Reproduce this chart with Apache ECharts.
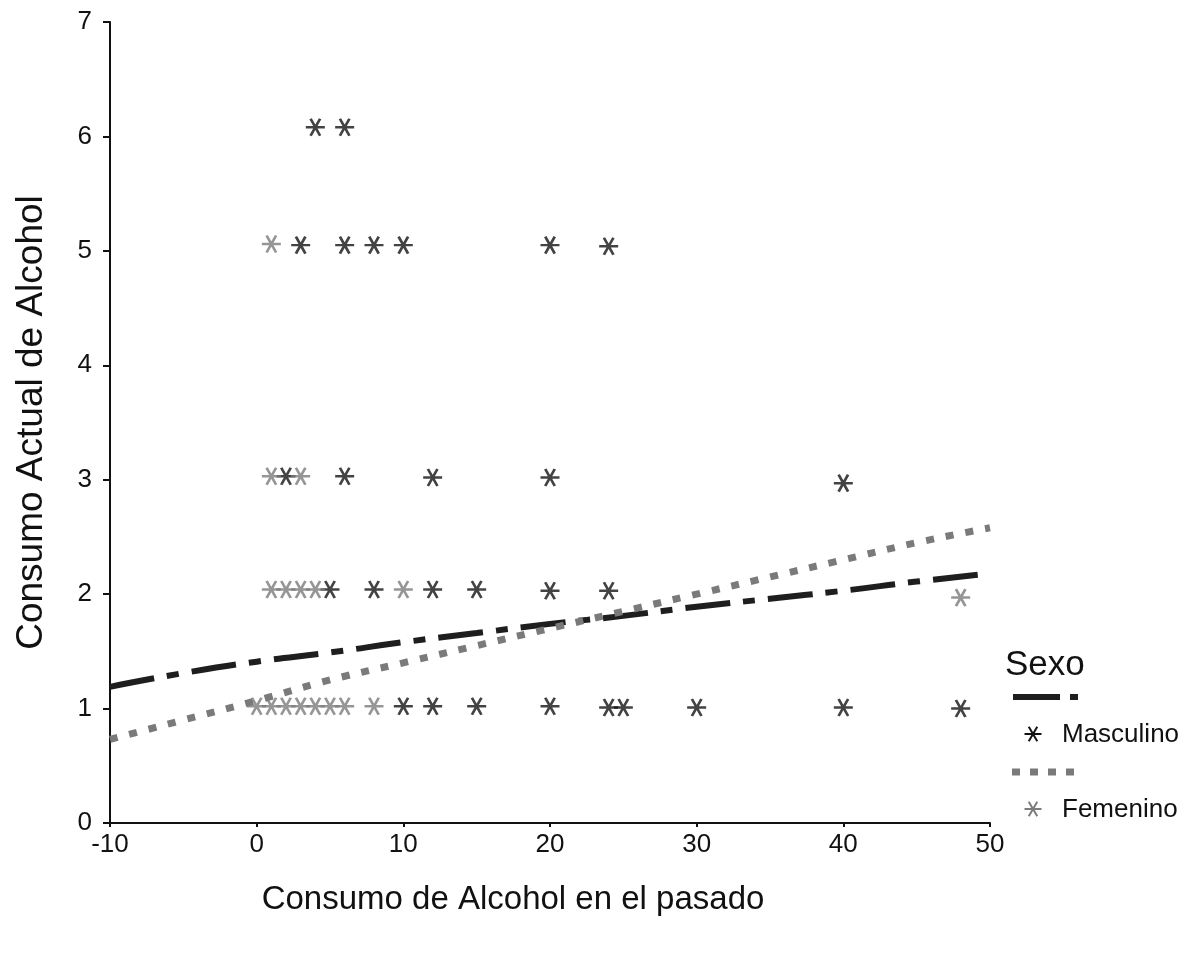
<!DOCTYPE html>
<html lang="es">
<head>
    <meta charset="UTF-8">
    <title>Consumo de Alcohol</title>
    <script src="https://cdn.jsdelivr.net/npm/echarts@6/dist/echarts.min.js"></script>
    <style>
        html, body {
            margin: 0;
            height: 100%;
            background: #fff;
        }
    </style>
</head>
<body>
<div id="main" style="width: 1182px;height: 954px;"></div>
</body>
</html>
<script>
    // puntos Masculino (negro)
    var mascX = [4, 6,
        3, 6, 8, 10, 20, 24,
        2, 6, 12, 20, 40,
        5, 8, 12, 15, 20, 24,
        10, 12, 15, 20, 24, 25, 30, 40, 48];
    var mascY = [6.08, 6.08,
        5.05, 5.05, 5.05, 5.05, 5.05, 5.04,
        3.03, 3.03, 3.02, 3.02, 2.97,
        2.04, 2.04, 2.04, 2.04, 2.03, 2.03,
        1.02, 1.02, 1.02, 1.02, 1.01, 1.01, 1.01, 1.01, 1.0];

    // puntos Femenino (gris)
    var femX = [1,
        1, 3,
        1, 2, 3, 4, 10, 48,
        0, 1, 2, 3, 4, 5, 6, 8];
    var femY = [5.06,
        3.03, 3.03,
        2.04, 2.04, 2.04, 2.04, 2.04, 1.97,
        1.02, 1.02, 1.02, 1.02, 1.02, 1.02, 1.02, 1.02];

    // lineas de ajuste
    var fitX = [-10, -5, 0, 5, 10, 15, 20, 25, 30, 35, 40, 45, 50];
    var mascFit = [1.19, 1.31, 1.41, 1.49, 1.58, 1.66, 1.74, 1.81, 1.89, 1.96, 2.03, 2.11, 2.18];
    var femFit = [0.73, 0.9, 1.07, 1.25, 1.40, 1.55, 1.70, 1.85, 2.0, 2.15, 2.3, 2.45, 2.58];

    var FONT = 'Liberation Sans, Arial, sans-serif';
    var STAR = 'path://M0,8.66L20,8.66M5,0L15,17.32M15,0L5,17.32';

    function pairs(xs, ys) {
        var out = [];
        for (var i = 0; i < xs.length; i++) out.push([xs[i], ys[i]]);
        return out;
    }

    // asterisco de la leyenda
    function legendStar(cx, cy, color) {
        var r = 8.5, children = [];
        [0, 60, 120].forEach(function (a) {
            var t = a * Math.PI / 180;
            children.push({
                type: 'line',
                shape: {x1: cx - r * Math.cos(t), y1: cy - r * Math.sin(t), x2: cx + r * Math.cos(t), y2: cy + r * Math.sin(t)},
                style: {stroke: color, lineWidth: 2}
            });
        });
        return {type: 'group', children: children};
    }

    var myChart = echarts.init(document.getElementById('main'));
    var option = {
        backgroundColor: '#fff',
        animation: false,
        grid: {left: 110, right: 192, top: 22, bottom: 131},
        xAxis: {
            type: 'value',
            min: -10,
            max: 50,
            interval: 10,
            name: 'Consumo de Alcohol en el pasado',
            nameLocation: 'middle',
            nameGap: 60,
            nameTextStyle: {fontFamily: FONT, fontSize: 33, color: '#111', padding: [0, 74, 0, 0]},
            axisLine: {onZero: false, lineStyle: {color: '#111', width: 2}},
            axisTick: {length: 4, lineStyle: {color: '#111', width: 2}},
            axisLabel: {fontFamily: FONT, fontSize: 26, color: '#111', margin: 9},
            splitLine: {show: false}
        },
        yAxis: {
            type: 'value',
            min: 0,
            max: 7,
            interval: 1,
            name: 'Consumo Actual de Alcohol',
            nameLocation: 'middle',
            nameGap: 60,
            nameTextStyle: {fontFamily: FONT, fontSize: 37, color: '#111'},
            axisLine: {onZero: false, lineStyle: {color: '#111', width: 2}},
            axisTick: {length: 7, lineStyle: {color: '#111', width: 2}},
            axisLabel: {fontFamily: FONT, fontSize: 26, color: '#111', margin: 18},
            splitLine: {show: false}
        },
        series: [
            {
                name: 'Masculino ajuste',
                type: 'line',
                data: pairs(fitX, mascFit),
                showSymbol: false,
                smooth: true,
                lineStyle: {color: '#1e1e1e', width: 6, type: [45, 13, 12, 13], cap: 'butt'},
                z: 3
            },
            {
                name: 'Femenino ajuste',
                type: 'line',
                data: pairs(fitX, femFit),
                showSymbol: false,
                smooth: true,
                lineStyle: {color: '#7a7a7a', width: 7, type: [8, 12], cap: 'butt'},
                z: 3
            },
            {
                name: 'Masculino',
                type: 'scatter',
                data: pairs(mascX, mascY),
                symbol: STAR,
                symbolSize: [19, 17],
                itemStyle: {color: 'transparent', borderColor: '#141414', borderWidth: 2.6},
                z: 4
            },
            {
                name: 'Femenino',
                type: 'scatter',
                data: pairs(femX, femY),
                symbol: STAR,
                symbolSize: [19, 17],
                itemStyle: {color: 'transparent', borderColor: '#7c7c7c', borderWidth: 2.6},
                z: 4
            }
        ],
        graphic: [
            {type: 'text', left: 1005, top: 648, style: {text: 'Sexo', font: '35px ' + FONT, fill: '#111'}},
            {type: 'line', shape: {x1: 1013, y1: 697, x2: 1060, y2: 697}, style: {stroke: '#1e1e1e', lineWidth: 6}},
            {type: 'line', shape: {x1: 1070, y1: 697, x2: 1078, y2: 697}, style: {stroke: '#1e1e1e', lineWidth: 6}},
            legendStar(1033, 734, '#141414'),
            {type: 'text', left: 1062, top: 722, style: {text: 'Masculino', font: '26px ' + FONT, fill: '#111'}},
            {type: 'line', shape: {x1: 1012, y1: 772, x2: 1078, y2: 772}, style: {stroke: '#7a7a7a', lineWidth: 7, lineDash: [8, 10]}},
            legendStar(1033, 809, '#7c7c7c'),
            {type: 'text', left: 1062, top: 797, style: {text: 'Femenino', font: '26px ' + FONT, fill: '#111'}}
        ]
    };
    myChart.setOption(option);
</script>
